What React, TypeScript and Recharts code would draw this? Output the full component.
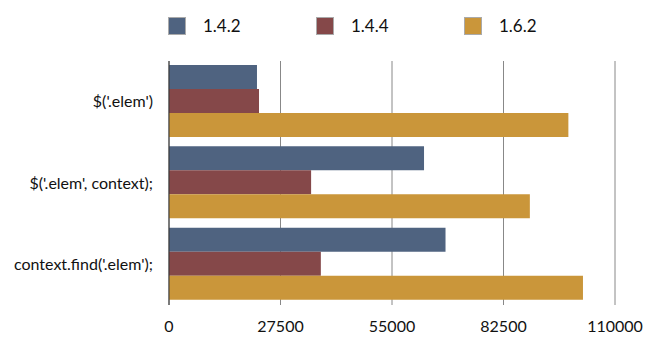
import { BarChart, Bar, XAxis, YAxis, CartesianGrid, Legend } from 'recharts'

document.body.style.margin = '0'

const categories = ["$('.elem')", "$('.elem', context);", "context.find('.elem');"]
const v142 = [21700, 62900, 68200]
const v144 = [22200, 35050, 37450]
const v162 = [98500, 89000, 102100]
const xTicks = [0, 27500, 55000, 82500, 110000]

const seriesNames = ['1.4.2', '1.4.4', '1.6.2']
const colors = ['#4f6380', '#854849', '#ca963a']

const data = categories.map((name, i) => ({
  name,
  '1.4.2': v142[i],
  '1.4.4': v144[i],
  '1.6.2': v162[i],
}))

const font = 'Lato, "Open Sans", sans-serif'

function LegendBox() {
  return (
    <div style={{ display: 'flex', paddingLeft: 168, fontFamily: font, height: 25 }}>
      {seriesNames.map((s, i) => (
        <div key={s} style={{ width: 148, display: 'flex', alignItems: 'center' }}>
          <span
            style={{
              width: 16,
              height: 16,
              background: colors[i],
              border: '1px solid #aaa',
              display: 'inline-block',
              marginRight: 17,
            }}
          />
          <span style={{ fontSize: 17, color: '#111' }}>{s}</span>
        </div>
      ))}
    </div>
  )
}

export default function App() {
  return (
    <BarChart
      width={650}
      height={359}
      data={data}
      layout="vertical"
      margin={{ top: 36, right: 35, left: 0, bottom: 0 }}
      barCategoryGap={4}
      barGap={0}
    >
      <CartesianGrid horizontal={false} stroke="#888" />
      <Legend
        verticalAlign="top"
        content={() => <LegendBox />}
        wrapperStyle={{ top: 13, left: 0, width: 650 }}
      />
      <XAxis
        type="number"
        domain={[0, 110000]}
        ticks={xTicks}
        axisLine={false}
        tickLine={false}
        height={54}
        tickMargin={10}
        tick={{ fill: '#111', fontSize: 16, fontFamily: font }}
      />
      <YAxis
        type="category"
        dataKey="name"
        width={169}
        axisLine={{ stroke: '#333' }}
        tickLine={false}
        tickMargin={10}
        tick={{ fill: '#111', fontSize: 16, fontFamily: font }}
      />
      {seriesNames.map((s, i) => (
        <Bar key={s} dataKey={s} fill={colors[i]} isAnimationActive={false} />
      ))}
    </BarChart>
  )
}
